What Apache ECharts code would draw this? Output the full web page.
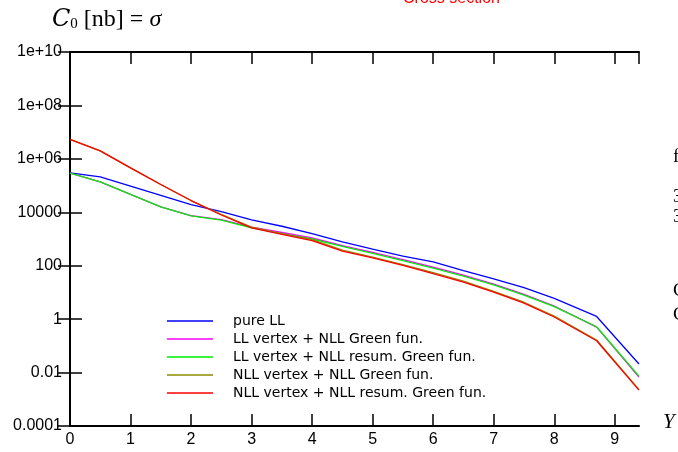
<!DOCTYPE html>
<html>
<head>
<meta charset="utf-8">
<script src="https://cdn.jsdelivr.net/npm/echarts@6/dist/echarts.min.js"></script>
<style>
  html, body { margin: 0; padding: 0; background: #fff; }
</style>
</head>
<body>
<div id="chart" style="width: 678px;height:452px;"></div>
<script>
// rapidity Y points
const rapidity = [0, 0.5, 1, 1.5, 2, 2.5, 3, 3.5, 4, 4.5, 5, 5.5, 6, 6.5, 7, 7.5, 8, 8.7, 9.4];

// cross section in nb
const pureLL = [3.0e5, 2.1e5, 9.5e4, 4.3e4, 1.95e4, 1.05e4, 5.2e3, 3.0e3, 1.6e3, 780, 420, 230, 138, 66, 32, 15, 6.0, 1.26, 0.021];
const llNllGreen = [2.9e5, 1.38e5, 4.7e4, 1.6e4, 7.5e3, 5.3e3, 2.8e3, 1.75e3, 1.1e3, 570, 315, 168, 88, 44, 20.5, 8.4, 3.1, 0.5, 0.0068];
const llNllResum = [2.9e5, 1.38e5, 4.7e4, 1.6e4, 7.4e3, 5.1e3, 2.6e3, 1.6e3, 1.0e3, 525, 290, 155, 81, 41, 19, 7.9, 2.95, 0.52, 0.0074];
const nllNllGreen = [5.4e6, 2.0e6, 4.6e5, 1.1e5, 2.75e4, 8.3e3, 2.8e3, 1.6e3, 940, 385, 210, 110, 55, 26.5, 11, 4.3, 1.3, 0.165, 0.0023];
const nllNllResum = [5.4e6, 2.0e6, 4.6e5, 1.1e5, 2.75e4, 7.9e3, 2.6e3, 1.48e3, 870, 355, 195, 102, 51, 24.5, 10.2, 4.0, 1.2, 0.155, 0.0022];

const seriesNames = [
  "pure LL",
  "LL vertex + NLL Green fun.",
  "LL vertex + NLL resum. Green fun.",
  "NLL vertex + NLL Green fun.",
  "NLL vertex + NLL resum. Green fun."
];
const seriesColors = ["#0000ff", "#ff00ff", "#00ee00", "#8b8b00", "#ff0000"];
const seriesValues = [pureLL, llNllGreen, llNllResum, nllNllGreen, nllNllResum];

function pairs(vals) {
  return rapidity.map((x, i) => [x, vals[i]]);
}

function yLabel(v) {
  const e = Math.round(Math.log10(v));
  if (e >= 6) return "1e+" + (e < 10 ? "0" : "") + e;
  if (e >= 0) return String(Math.pow(10, e));
  return Math.pow(10, e).toFixed(-e);
}

const plotW = 678 - 70 - 39;
const tickStyle = { inside: true, length: 12, lineStyle: { color: "#000", width: 1.5 } };
const lineStyle = { show: true, lineStyle: { color: "#000", width: 2 } };
const labelFont = { color: "#000", fontFamily: "Liberation Sans", fontSize: 16 };

const chart = echarts.init(document.getElementById("chart"));
chart.setOption({
  animation: false,
  backgroundColor: "#fff",
  grid: { left: 70, right: 39, top: 52, bottom: 26 },
  legend: {
    orient: "vertical",
    left: 167,
    top: 312,
    padding: 0,
    icon: "rect",
    itemWidth: 46,
    itemHeight: 1.5,
    itemGap: 0,
    data: seriesNames,
    textStyle: {
      color: "#000",
      fontFamily: "DejaVu Sans",
      fontSize: 14,
      lineHeight: 18,
      padding: [0, 0, 0, 15]
    }
  },
  xAxis: [
    {
      type: "value",
      min: 0,
      max: 9.4,
      interval: 1,
      axisLine: lineStyle,
      axisTick: tickStyle,
      axisLabel: Object.assign({ margin: 6, showMaxLabel: false }, labelFont),
      splitLine: { show: false }
    },
    {
      type: "value",
      position: "top",
      min: 0,
      max: 9.4,
      interval: 1,
      axisLine: lineStyle,
      axisTick: tickStyle,
      axisLabel: { show: false },
      splitLine: { show: false }
    }
  ],
  yAxis: [
    {
      type: "log",
      logBase: 10,
      min: 1e-4,
      max: 1e10,
      interval: 2,
      axisLine: lineStyle,
      axisTick: { show: false },
      axisLabel: { show: false },
      splitLine: { show: false }
    },
    {
      type: "log",
      logBase: 10,
      position: "right",
      min: 1e-4,
      max: 1e10,
      interval: 2,
      axisLine: lineStyle,
      axisTick: tickStyle,
      axisLabel: { show: false },
      splitLine: { show: false }
    },
    {
      // left-hand ticks and labels, drawn by a right axis moved onto the left edge
      type: "log",
      logBase: 10,
      position: "right",
      offset: -plotW,
      min: 1e-4,
      max: 1e10,
      interval: 2,
      axisLine: { show: false },
      axisTick: { inside: false, length: 12, lineStyle: { color: "#000", width: 1.5 } },
      axisLabel: Object.assign({ inside: true, margin: 8, formatter: yLabel }, labelFont),
      splitLine: { show: false }
    }
  ],
  series: seriesNames.map((name, i) => ({
    name: name,
    type: "line",
    data: pairs(seriesValues[i]),
    showSymbol: false,
    symbol: "none",
    color: seriesColors[i],
    lineStyle: { width: 1.3, color: seriesColors[i] },
    z: 2 + i
  })),
  graphic: [
    {
      type: "text",
      left: 52,
      top: 8,
      style: {
        text: "{c|C}{s|0} [nb] = {i|σ}",
        fill: "#000",
        font: "24px 'Liberation Serif'",
        rich: {
          c: { fontFamily: "DejaVu Serif", fontStyle: "italic", fontSize: 24 },
          s: { fontFamily: "Liberation Serif", fontSize: 15, verticalAlign: "bottom", padding: [9, 0, 0, 0] },
          i: { fontFamily: "Liberation Serif", fontStyle: "italic", fontSize: 24 }
        }
      }
    },
    {
      type: "text",
      left: 403,
      top: -9,
      style: { text: "Cross section", fill: "#ff0000", font: "16px 'Liberation Sans'" }
    },
    {
      type: "text",
      left: 663,
      top: 412,
      style: { text: "Y", fill: "#000", font: "italic 21px 'Liberation Serif'" }
    },
    { type: "text", left: 673, top: 148, style: { text: "f", fill: "#000", font: "19px 'Liberation Serif'" } },
    { type: "text", left: 673, top: 188, style: { text: "3", fill: "#000", font: "19px 'Liberation Serif'" } },
    { type: "text", left: 673, top: 208, style: { text: "3", fill: "#000", font: "19px 'Liberation Serif'" } },
    { type: "text", left: 673, top: 282, style: { text: "C", fill: "#000", font: "19px 'Liberation Serif'" } },
    { type: "text", left: 673, top: 306, style: { text: "C", fill: "#000", font: "19px 'Liberation Serif'" } }
  ]
});
</script>
</body>
</html>
